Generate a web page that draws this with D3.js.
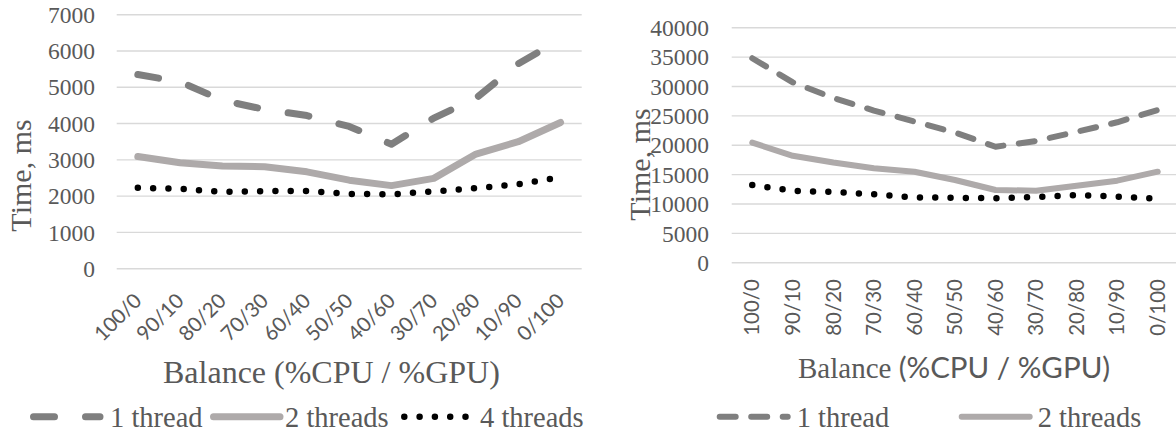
<!DOCTYPE html>
<html>
<head>
<meta charset="utf-8">
<script src="https://cdn.jsdelivr.net/npm/d3@7"></script>
<style>
  body { margin: 0; background: #fff; }
  svg { display: block; }
</style>
</head>
<body>
<svg id="chart" width="1176" height="436"></svg>
<script>
// categories (CPU / GPU balance)
const balance = ["100/0", "90/10", "80/20", "70/30", "60/40", "50/50", "40/60", "30/70", "20/80", "10/90", "0/100"]

// left chart, time in ms
const leftOne = [5350, 5150, 4640, 4390, 4220, 3920, 3430, 4150, 4700, 5650, 6320]
const leftTwo = [3090, 2920, 2830, 2810, 2670, 2440, 2290, 2490, 3160, 3500, 4030]
const leftFour = [2230, 2200, 2120, 2140, 2140, 2060, 2050, 2130, 2220, 2330, 2520]
const leftTicks = [0, 1000, 2000, 3000, 4000, 5000, 6000, 7000]

// right chart, time in ms
const rightOne = [34800, 30700, 28030, 25900, 24030, 22160, 19740, 20720, 22280, 23900, 26000]
const rightTwo = [20430, 18200, 17050, 16070, 15490, 14080, 12370, 12260, 13110, 13960, 15490]
const rightFour = [13230, 12240, 12030, 11640, 11100, 11060, 10960, 11180, 11520, 11250, 10890]
const rightTicks = [0, 5000, 10000, 15000, 20000, 25000, 30000, 35000, 40000]

const seriesNames = ["1 thread", "2 threads", "4 threads"]

const serif = "'Liberation Serif', 'Times New Roman', serif"
const sans = "Lato, 'Open Sans', sans-serif"
const txt = "#595959"
const grid = "#d9d9d9"

const svg = d3.select('#chart')

function drawChart(o) {
  const g = svg.append('g')
  const x = d3.scalePoint().domain(balance).range(o.xRange).padding(0.5)
  const y = d3.scaleLinear().domain([0, d3.max(o.ticks)]).range(o.yRange)

  // gridlines
  g.selectAll('line.grid')
    .data(o.ticks)
    .join('line')
    .attr('x1', o.gridX[0]).attr('x2', o.gridX[1])
    .attr('y1', d => y(d)).attr('y2', d => y(d))
    .attr('stroke', grid)
    .attr('stroke-width', 1.4)

  // y tick labels
  g.selectAll('text.ytick')
    .data(o.ticks)
    .join('text')
    .attr('x', o.tickX)
    .attr('y', d => y(d))
    .attr('dy', '0.35em')
    .attr('text-anchor', 'end')
    .attr('font-family', serif)
    .attr('font-size', 23.5)
    .attr('fill', txt)
    .text(d => d)

  // x tick labels
  g.selectAll('text.xtick')
    .data(balance)
    .join('text')
    .attr('transform', d => `translate(${x(d) + o.labelDx},${o.labelY}) rotate(${o.labelRot})`)
    .attr('dy', '0.35em')
    .attr('text-anchor', 'end')
    .attr('font-family', sans)
    .attr('font-size', 20.5)
    .attr('fill', txt)
    .text(d => d)

  // y axis title
  g.append('text')
    .attr('transform', `translate(${o.yTitle[0]},${o.yTitle[1]}) rotate(-90)`)
    .attr('text-anchor', 'middle')
    .attr('font-family', serif)
    .attr('font-size', 30)
    .attr('fill', txt)
    .text('Time, ms')

  // x axis title
  const xt = g.append('text')
    .attr('x', o.xTitle[0])
    .attr('y', o.xTitle[1])
    .attr('font-family', serif)
    .attr('font-size', o.xTitleSize)
    .attr('fill', txt)
  if (o.mixedTitle) {
    xt.append('tspan').text('Balance ')
    xt.append('tspan').attr('font-family', sans).attr('font-size', 29.5).text('(%CPU / %GPU)')
  } else {
    xt.text('Balance (%CPU / %GPU)')
  }

  const line = d3.line()
    .x((d, i) => x(balance[i]))
    .y(d => y(d))

  const styles = [
    {color: '#7f7f7f', width: o.lw, dash: o.dash},
    {color: '#aeaaaa', width: o.lw, dash: null},
    {color: '#000000', width: 6.5, dash: '0,15.3'}
  ]

  o.series.forEach((s, k) => {
    g.append('path')
      .datum(s)
      .attr('d', line)
      .attr('fill', 'none')
      .attr('stroke', styles[k].color)
      .attr('stroke-width', styles[k].width)
      .attr('stroke-linecap', 'round')
      .attr('stroke-linejoin', 'round')
      .attr('stroke-dasharray', styles[k].dash)
  })

  // legend
  o.legend.forEach((p, k) => {
    g.append('line')
      .attr('x1', p[0]).attr('x2', p[1])
      .attr('y1', o.legendY).attr('y2', o.legendY)
      .attr('stroke', styles[k].color)
      .attr('stroke-width', styles[k].width)
      .attr('stroke-linecap', 'round')
      .attr('stroke-dasharray', styles[k].dash)
    g.append('text')
      .attr('x', p[2])
      .attr('y', o.legendY + 10)
      .attr('font-family', serif)
      .attr('font-size', 28.5)
      .attr('fill', txt)
      .text(seriesNames[k])
  })
}

drawChart({
  series: [leftOne, leftTwo, leftFour],
  ticks: leftTicks,
  xRange: [116.7, 581.7],
  gridX: [116.7, 581.7],
  yRange: [268.7, 14.7],
  tickX: 95,
  labelDx: 0, labelY: 297, labelRot: -45,
  yTitle: [31, 175.5],
  xTitle: [163, 383.3], xTitleSize: 32, mixedTitle: false,
  lw: 7, dash: '21,31',
  legend: [[33.5, 100, 110], [213.5, 280, 285], [404.3, 466, 480]],
  legendY: 416.7
})

drawChart({
  series: [rightOne, rightTwo, rightFour],
  ticks: rightTicks,
  xRange: [732, 1178],
  gridX: [731.7, 1176],
  yRange: [262.7, 27.7],
  tickX: 709,
  labelDx: 0, labelY: 279, labelRot: -90,
  yTitle: [650, 164.5],
  xTitle: [798, 378.3], xTitleSize: 29, mixedTitle: true,
  lw: 6, dash: '16,15.5',
  legend: [[719.7, 787.7, 796.7], [961.7, 1029.7, 1037.7]],
  legendY: 416.7
})
</script>
</body>
</html>
